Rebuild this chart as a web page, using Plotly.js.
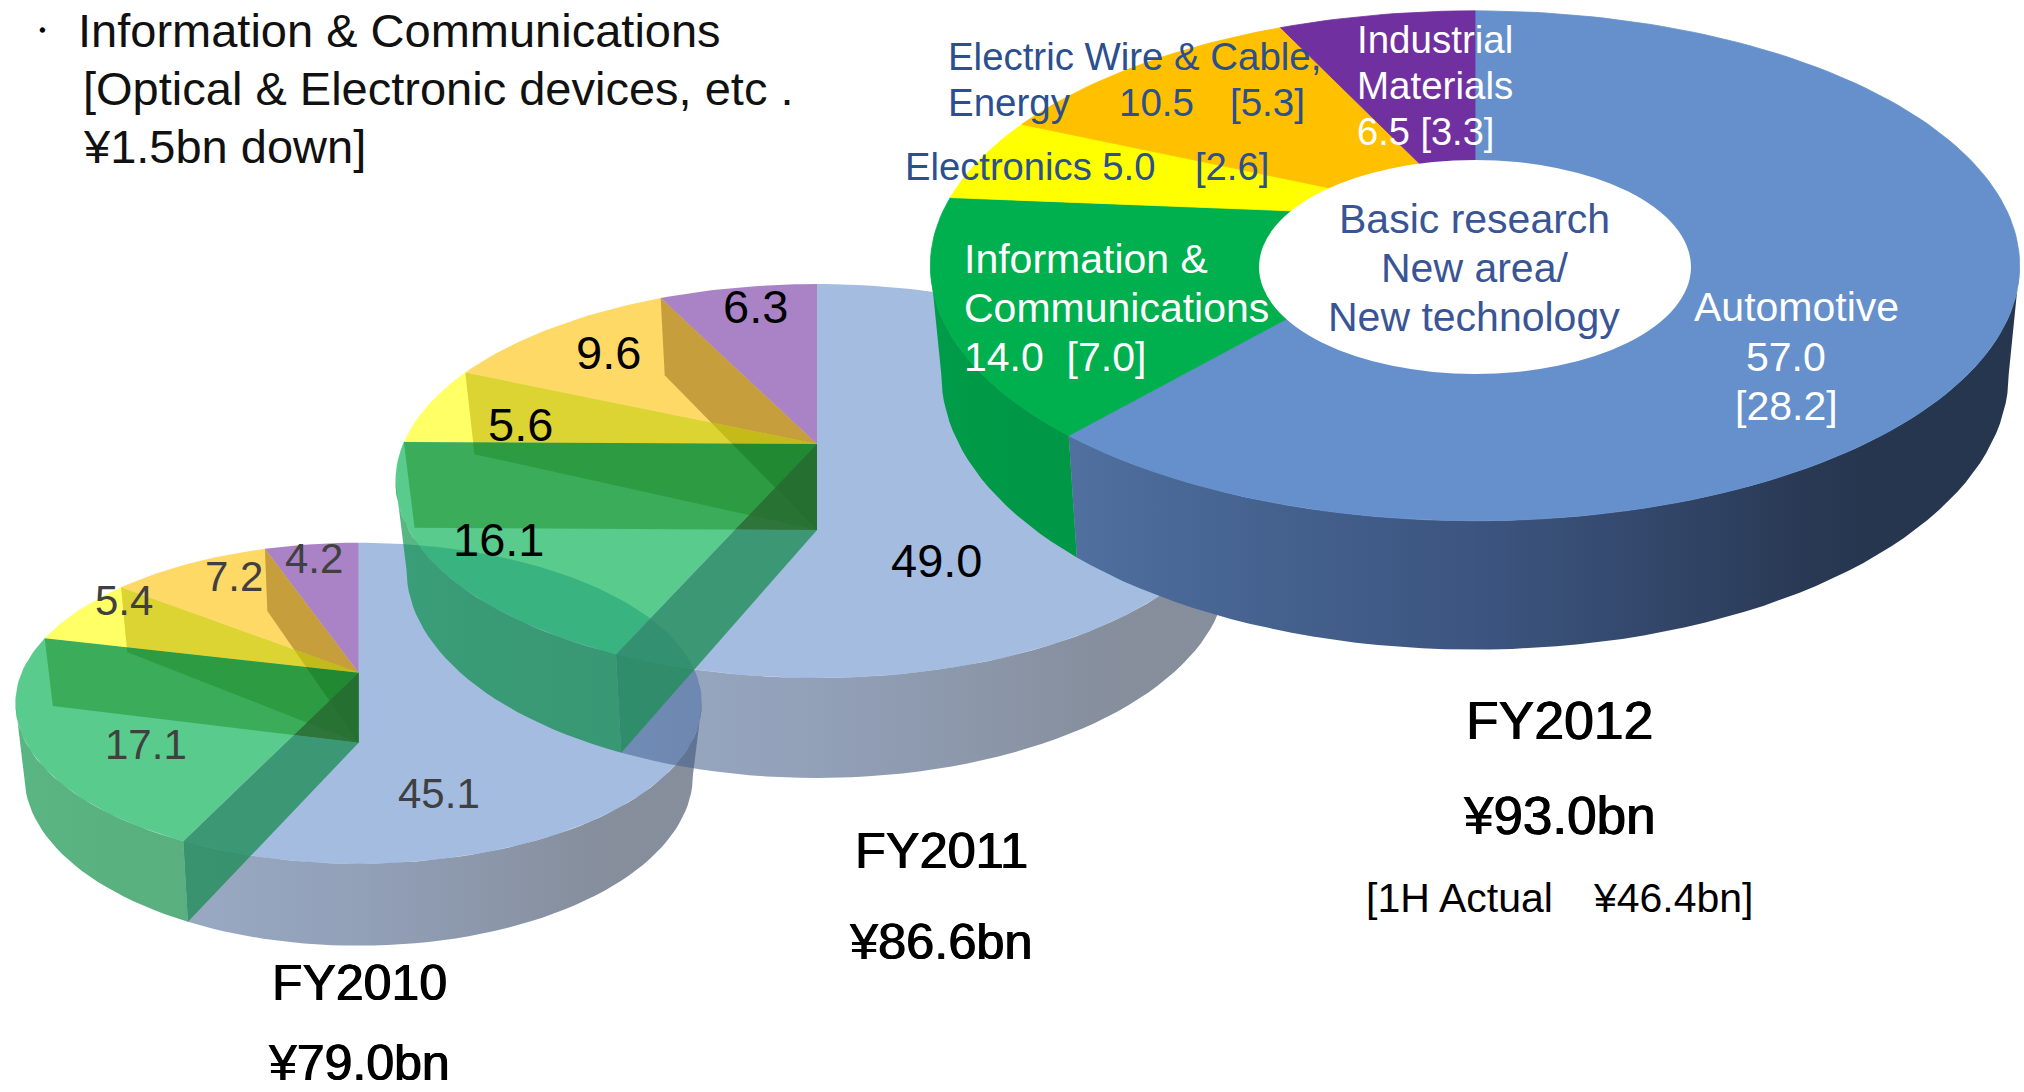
<!DOCTYPE html>
<html><head><meta charset="utf-8">
<script src="https://cdn.plot.ly/plotly-3.0.1.min.js"></script>
<style>html,body{margin:0;padding:0;background:#fff}#c{width:2024px;height:1092px}</style></head>
<body><div id="c"></div>
<script>
// ---- data (clockwise from 12 o'clock) ----
const categories = ["Automotive","Information & Communications","Electronics","Electric Wire & Cable, Energy","Industrial Materials"];
const values2010 = [45.1,17.1,5.4,7.2,4.2];
const values2011 = [49.0,16.1,5.6,9.6,6.3];
const values2012 = [57.0,14.0,5.0,10.5,6.5];
const totals = ["¥79.0bn","¥86.6bn","¥93.0bn"];
const years = ["FY2010","FY2011","FY2012"];

const FONT = '"Liberation Sans", Arial, sans-serif';
const rgb = (c,a)=>`rgba(${c[0]},${c[1]},${c[2]},${a})`;
const topRGB = [[101,144,203],[0,175,78],[255,255,0],[255,192,0],[112,48,160]];
const topAlpha = [0.6,0.65,0.6,0.6,0.6];
const traces = [];

function poly(pts,color,lw){
  const xs=pts.map(p=>p[0]), ys=pts.map(p=>p[1]);
  xs.push(xs[0]); ys.push(ys[0]);
  traces.push({type:'scatter',mode:'lines',x:xs,y:ys,fill:'toself',fillcolor:color,
    line:{width:lw||0,color:lw?color:'rgba(0,0,0,0)'},hoverinfo:'skip',showlegend:false});
}
function gradPoly(pts,stops){
  const xs=pts.map(p=>p[0]), ys=pts.map(p=>p[1]);
  xs.push(xs[0]); ys.push(ys[0]);
  const lo=Math.min(...xs), hi=Math.max(...xs);
  const sc=stops.map(s=>[Math.max(0,Math.min(1,(s[0]-lo)/(hi-lo))),s[1]]).sort((a,b)=>a[0]-b[0]);
  sc[0][0]=0; sc[sc.length-1][0]=1;
  traces.push({type:'scatter',mode:'lines',x:xs,y:ys,fill:'toself',
    fillgradient:{type:'horizontal',colorscale:sc},
    line:{width:0,color:'rgba(0,0,0,0)'},hoverinfo:'skip',showlegend:false});
}
// keep the part of a convex polygon on one side of the line a->b
function clip(pts,a,b,side){
  const s=p=>side*((b[0]-a[0])*(p[1]-a[1])-(b[1]-a[1])*(p[0]-a[0]));
  const out=[];
  pts.forEach((p,i)=>{
    const q=pts[(i+1)%pts.length], sp=s(p), sq=s(q);
    if(sp>=0) out.push(p);
    if((sp>=0)!==(sq>=0)){const t=sp/(sp-sq); out.push([p[0]+(q[0]-p[0])*t,p[1]+(q[1]-p[1])*t]);}
  });
  return out;
}
function mix(a,b,t){return a.map((v,i)=>Math.round(v+(b[i]-v)*t));}
function blueWall(th){
  const d=[39,54,79],m=[60,85,128],l=[80,112,160];
  if(th<=145) return d;
  if(th<=180) return mix(d,m,(th-145)/35);
  return mix(m,l,Math.min(1,(th-180)/40));
}
function greenWall(th,solid){
  return solid? mix([0,148,68],[0,158,74],(th-205)/55) : mix([0,132,58],[0,146,66],(th-205)/55);
}

function drawPie(vals,g){
  const total=vals.reduce((a,b)=>a+b,0);
  const P=(deg,lower)=>{
    const r=deg*Math.PI/180,u=Math.sin(r),v=-Math.cos(r),den=1-g.k*v;
    const X=g.A*u/den, Y=g.B*v/den;
    return lower?[g.xc+X*g.sx, g.ya+g.d0+Y*g.sy]:[g.xc+X, g.ya+Y];
  };
  const apex=[g.xc,g.ya], apexLow=[g.xc,g.ya+g.d0];
  const bounds=[0]; let c=0;
  vals.forEach(v=>{c+=v;bounds.push(c/total*360);});
  const tR=Math.acos(-g.k)*180/Math.PI, tL=360-tR;
  const rim=(from,to,colFn,alpha)=>{
    const topArc=[],lowArc=[],stops=[];
    const n=Math.ceil((to-from)/2);
    for(let i=0;i<=n;i++){
      const t=from+(to-from)*i/n;
      topArc.push(P(t)); lowArc.unshift(P(t,true));
      if(i%4===0||i===n) stops.push([P(t)[0],rgb(colFn(t),alpha)]);
    }
    gradPoly(topArc.concat(lowArc),stops);
  };
  rim(tR,bounds[1],blueWall,g.solid?1:0.56);
  rim(bounds[1],tL,th=>greenWall(th,g.solid),g.solid?1:0.65);
  vals.forEach((v,i)=>{
    const pts=[apex];
    for(let t=bounds[i];t<bounds[i+1];t+=1.5) pts.push(P(t));
    pts.push(P(bounds[i+1]));
    poly(pts,rgb(topRGB[i],g.solid?1:topAlpha[i]),g.solid?0.8:0);
  });
  if(!g.solid){
    // cut walls seen through the translucent faces, split where they cross each other
    const wall=deg=>[apex,P(deg),P(deg,true),apexLow];
    const gy=P(bounds[2]), yo=P(bounds[3]);
    poly(wall(bounds[2]),'rgba(30,141,40,0.5)');
    const yW=wall(bounds[3]);
    poly(clip(yW,apex,gy,1),'rgba(185,169,0,0.5)');
    poly(clip(yW,apex,gy,-1),'rgba(30,138,40,0.5)');
    const oW=wall(bounds[4]);
    poly(clip(oW,apex,yo,1),'rgba(141,99,18,0.5)');
    poly(clip(clip(oW,apex,yo,-1),apex,gy,1),'rgba(172,160,0,0.5)');
    poly(clip(oW,apex,gy,-1),'rgba(20,110,30,0.4)');
    const tW=wall(bounds[1]), gLow=P(bounds[2],true);
    poly(clip(tW,apexLow,gLow,-1),'rgba(32,141,89,0.8)');
    poly(clip(tW,apexLow,gLow,1),'rgba(36,108,46,0.85)');
  }
}

drawPie(values2010,{xc:358.6,ya:672.7,A:337,B:154.7,k:0.19,d0:70,sx:0.974,sy:1.063,solid:false});
drawPie(values2011,{xc:817,ya:444,A:414,B:190,k:0.188,d0:86,sx:0.974,sy:1.06,solid:false});
drawPie(values2012,{xc:1475,ya:218,A:535,B:246,k:0.1875,d0:104,sx:0.98,sy:1.082,solid:true});

const f2=v=>v.toFixed(1);
const note=(text,x,y,size,color,anchor,bold)=>({text,x,y,xref:'x',yref:'y',showarrow:false,
  xanchor:anchor||'center',yanchor:'middle',borderpad:0,align:anchor||'center',
  font:bold?{family:FONT,size,color,shadow:`0.6px 0 0 ${color}, -0.6px 0 0 ${color}`}:{family:FONT,size,color}});
const BL='#2B4F8F', HB='#3A5596', W='#ffffff', K='#000000', G='#404040';
const annotations=[
  note('・',24,30,34,K,'left'),
  note('Information & Communications',77,30,47,'#111','left'),
  note('[Optical & Electronic devices, etc .',82,88,47,'#111','left'),
  note('¥1.5bn down]',82,146,47,'#111','left'),
  // FY2012
  note('Electric Wire & Cable,',947,56,38.4,BL,'left'),
  note('Energy',947,102,38.5,BL,'left'),
  note(f2(values2012[3]),1118,102,38.5,BL,'left'),
  note('[5.3]',1229,102,38.5,BL,'left'),
  note('Electronics '+f2(values2012[2]),904,166,38.2,BL,'left'),
  note('[2.6]',1194,166,38.2,BL,'left'),
  note('Industrial',1356,39,38.5,W,'left'),
  note('Materials',1356,85,38.5,W,'left'),
  note(f2(values2012[4])+' [3.3]',1356,132,38,W,'left'),
  note('Information &',963,259,41,W,'left'),
  note('Communications',963,308,41,W,'left'),
  note(f2(values2012[1])+'  [7.0]',963,357,41,W,'left'),
  note('Basic research',1474,219,41,HB),
  note('New area/',1474,268,41,HB),
  note('New technology',1474,317,41,HB),
  note('Automotive',1796,307,41,W),
  note(f2(values2012[0]),1786,357,41,W),
  note('[28.2]',1786,406,41,W),
  note(years[2],1559,720,53.5,K,null,true),
  note(totals[2],1559,815,53,K,null,true),
  note('[1H Actual　¥46.4bn]',1559,898,41,K),
  // FY2011
  note(f2(values2011[0]),936,560,47,K),
  note(f2(values2011[4]),755,306,47,K),
  note(f2(values2011[3]),608,352,47,K),
  note(f2(values2011[2]),520,424,47,K),
  note(f2(values2011[1]),498,539,47,K),
  note(years[1],941,850,50.5,K,null,true),
  note(totals[1],941,941,50.5,K,null,true),
  // FY2010
  note(f2(values2010[0]),439,793,42,G),
  note(f2(values2010[1]),146,744,42,G),
  note(f2(values2010[2]),124,600,42,G),
  note(f2(values2010[3]),234,576,42,G),
  note(f2(values2010[4]),314,558,42,G),
  note(years[0],359,983,50,K,null,true),
  note(totals[0],359,1063,50,K,null,true)
];
const layout={
  width:2024,height:1092,margin:{l:0,r:0,t:0,b:0},paper_bgcolor:'#fff',plot_bgcolor:'#fff',showlegend:false,
  xaxis:{range:[0,2024],visible:false,fixedrange:true},
  yaxis:{range:[1092,0],visible:false,fixedrange:true},
  shapes:[{type:'circle',xref:'x',yref:'y',x0:1259,x1:1691,y0:160,y1:374,fillcolor:'#fff',line:{width:0},layer:'above'}],
  annotations
};
Plotly.newPlot('c',traces,layout,{displayModeBar:false,staticPlot:true});
</script></body></html>
